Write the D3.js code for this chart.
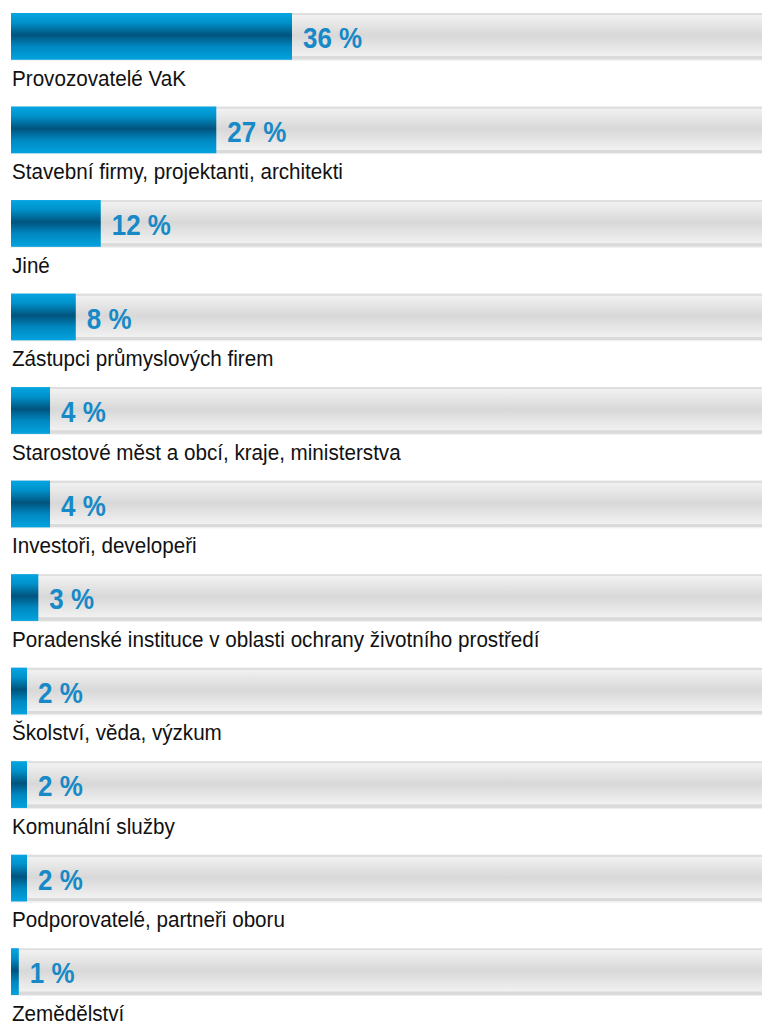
<!DOCTYPE html>
<html>
<head>
<meta charset="utf-8">
<script src="https://cdn.jsdelivr.net/npm/d3@7"></script>
<style>
  html, body { margin: 0; padding: 0; background: #ffffff; }
  svg { display: block; }
</style>
</head>
<body>
<script>
// Categories (top to bottom)
const categories = [
  "Provozovatelé VaK",
  "Stavební firmy, projektanti, architekti",
  "Jiné",
  "Zástupci průmyslových firem",
  "Starostové měst a obcí, kraje, ministerstva",
  "Investoři, developeři",
  "Poradenské instituce v oblasti ochrany životního prostředí",
  "Školství, věda, výzkum",
  "Komunální služby",
  "Podporovatelé, partneři oboru",
  "Zemědělství"
];
// Bar lengths as drawn in the picture (percent)
const shares = [36, 26.3, 11.5, 8.3, 5.0, 5.0, 3.5, 2.05, 2.05, 2.05, 1.0];
// Printed value labels
const shareLabels = ["36 %", "27 %", "12 %", "8 %", "4 %", "4 %", "3 %", "2 %", "2 %", "2 %", "1 %"];

const W = 762, H = 1026;
const svg = d3.select("body").append("svg").attr("width", W).attr("height", H);

const defs = svg.append("defs");
const blue = defs.append("linearGradient").attr("id", "blueGrad")
  .attr("x1", 0).attr("y1", 0).attr("x2", 0).attr("y2", 1);
[["0%", "#05a6e2"], ["20%", "#0092cb"], ["47%", "#00547e"], ["72%", "#0088c1"], ["100%", "#03a3df"]]
  .forEach(([o, c]) => blue.append("stop").attr("offset", o).attr("stop-color", c));
const gray = defs.append("linearGradient").attr("id", "grayGrad")
  .attr("x1", 0).attr("y1", 0).attr("x2", 0).attr("y2", 1);
[["0%", "#dedede"], ["4%", "#dedede"], ["5%", "#f1f1f1"], ["48%", "#d8d8d8"], ["92%", "#f1f1f1"], ["93%", "#dadada"], ["100%", "#dadada"]]
  .forEach(([o, c]) => gray.append("stop").attr("offset", o).attr("stop-color", c));

const y = d3.scaleBand().domain(categories).range([13, 995]).paddingInner(0.5).paddingOuter(0);
const x = d3.scaleLinear().domain([0, 36]).range([11, 292]);

const rows = svg.selectAll("g.row").data(categories).join("g")
  .attr("class", "row")
  .attr("transform", d => `translate(0,${y(d)})`);

// track
rows.append("rect")
  .attr("x", x(0)).attr("y", 0)
  .attr("width", W - x(0)).attr("height", y.bandwidth())
  .attr("fill", "url(#grayGrad)");
rows.append("line")
  .attr("x1", x(0)).attr("x2", W)
  .attr("y1", y.bandwidth() + 0.5).attr("y2", y.bandwidth() + 0.5)
  .attr("stroke", "#efefef").attr("stroke-width", 1);

// bar
rows.append("rect")
  .attr("x", x(0)).attr("y", 0)
  .attr("width", (d, i) => x(shares[i]) - x(0))
  .attr("height", y.bandwidth())
  .attr("fill", "url(#blueGrad)");

// value labels
rows.append("text")
  .attr("transform", (d, i) => `translate(${x(shares[i]) + 11},35) scale(0.88,1)`)
  .attr("font-family", "Liberation Sans, Arial, sans-serif")
  .attr("font-weight", "bold")
  .attr("font-size", 29.5)
  .attr("fill", "#1789c6")
  .text((d, i) => shareLabels[i]);

// category labels
rows.append("text")
  .attr("transform", `translate(12,72.5) scale(0.96,1)`)
  .attr("font-family", "Liberation Sans, Arial, sans-serif")
  .attr("font-size", 21.5)
  .attr("fill", "#111111")
  .text(d => d);
</script>
</body>
</html>
